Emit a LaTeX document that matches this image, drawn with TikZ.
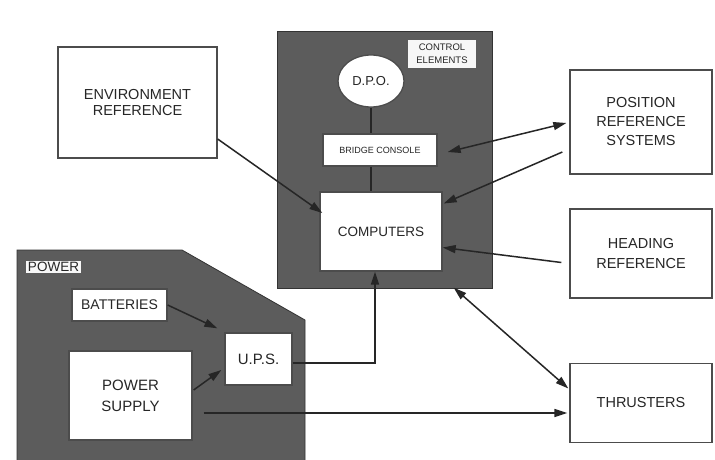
\documentclass[tikz,border=0pt]{standalone}
\usepackage{fontspec}
\setmainfont{Liberation Sans}
\usetikzlibrary{arrows.meta,shapes.geometric}
\begin{document}
\begin{tikzpicture}[x=1pt,y=-1pt,
  box/.style={draw=black!70, line width=1.3pt, fill=white, align=center, inner sep=0pt, text=black!85, font=\fontsize{14.5}{19}\selectfont},
  region/.style={fill=black!64, draw=black!80, line width=0.8pt},
  tag/.style={fill=black!3, inner sep=1.5pt, align=center, text=black!85},
  link/.style={line width=1.5pt, draw=black!85},
  arr/.style={link, -{Triangle[length=13pt,width=8pt]}},
  darr/.style={link, {Triangle[length=13pt,width=8pt]}-{Triangle[length=13pt,width=8pt]}}
]
\useasboundingbox (0,0) rectangle (715,460);
\fill[white] (0,0) rectangle (715,460);

% grouping regions
\draw[region] (277,31) rectangle (492,288);
\draw[region] (17,250) -- (182,250) -- (305,320) -- (305,464) -- (17,464) -- cycle;

% nodes
\node[box, minimum width=159pt, minimum height=111pt, font=\fontsize{14.5}{15.5}\selectfont] (env) at (137.5,102.5) {ENVIRONMENT\\REFERENCE};
\node[box, minimum width=142pt, minimum height=104pt] (pos) at (641,122) {POSITION\\REFERENCE\\SYSTEMS};
\node[box, minimum width=142pt, minimum height=89pt, font=\fontsize{14.5}{20}\selectfont] (head) at (641,253.5) {HEADING\\REFERENCE};
\node[box, minimum width=142pt, minimum height=79pt] (thr) at (641,403) {THRUSTERS};
\node[box, minimum width=122pt, minimum height=79pt, font=\fontsize{13.5}{16}\selectfont] (comp) at (381,231.5) {COMPUTERS};
\node[box, minimum width=114pt, minimum height=32pt, font=\fontsize{9}{11}\selectfont] (bridge) at (380,150) {BRIDGE CONSOLE};
\node[ellipse, draw=black!70, fill=white, line width=1.3pt, minimum width=66pt, minimum height=52pt, inner sep=0pt, text=black!85, font=\fontsize{13}{15}\selectfont] (dpo) at (371,81) {D.P.O.};
\node[tag, minimum width=68pt, minimum height=28pt, font=\fontsize{9.5}{13}\selectfont] (ctrl) at (442,54) {CONTROL\\ELEMENTS};
\node[tag, font=\fontsize{13.5}{15}\selectfont] (powerlbl) at (53.5,267) {POWER};
\node[box, minimum width=95pt, minimum height=32pt, font=\fontsize{14}{16}\selectfont] (bat) at (119.5,305) {BATTERIES};
\node[box, minimum width=67pt, minimum height=52pt, font=\fontsize{15}{17}\selectfont] (ups) at (258.5,359) {U.P.S.};
\node[box, minimum width=123pt, minimum height=89pt, font=\fontsize{15}{21}\selectfont] (sup) at (130.5,395.5) {POWER\\SUPPLY};

% connectors
\draw[link] (dpo.south) -- (dpo.south |- bridge.north);
\draw[link] (bridge.south -| dpo.south) -- (comp.north -| dpo.south);
\draw[arr] ([yshift=-36.5pt]env.east) -- ([xshift=3pt,yshift=18.5pt]comp.west);
\draw[darr] ([xshift=10pt,yshift=-2pt]bridge.east) -- ([xshift=-3pt,yshift=-1pt]pos.west);
\draw[arr] ([xshift=-7pt,yshift=-30pt]pos.west) -- ([xshift=1pt,yshift=28pt]comp.east);
\draw[arr] ([xshift=-8pt,yshift=-9pt]head.west) -- ([yshift=-16pt]comp.east);
\draw[darr] ([xshift=11pt,yshift=-16pt]comp.south east) -- ([xshift=-1pt,yshift=14.5pt]thr.west);
\draw[arr] ([yshift=-4pt]ups.east) -| ([xshift=-6pt]comp.south);
\draw[arr] ([xshift=11pt,yshift=-17.5pt]sup.east) -- ([xshift=-2pt,yshift=-10pt]thr.west);
\draw[arr] (bat.east) -- ([xshift=-7pt,yshift=4pt]ups.north west);
\draw[arr] ([xshift=1pt,yshift=5.5pt]sup.east) -- ([xshift=-3pt,yshift=-11pt]ups.west);
\end{tikzpicture}
\end{document}
